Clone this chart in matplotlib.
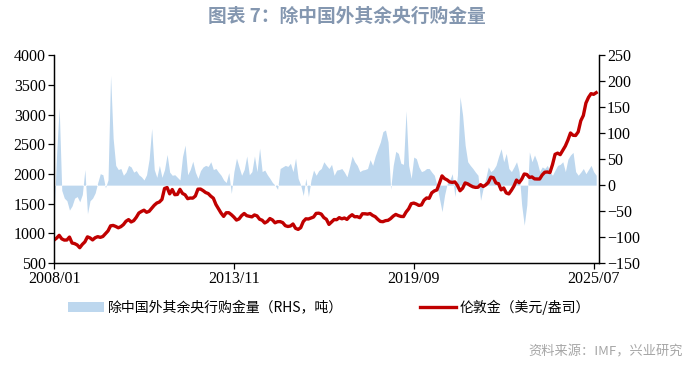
import numpy as np
import matplotlib.pyplot as plt
from matplotlib.patches import Patch
from matplotlib.lines import Line2D

# London gold, USD/oz, monthly 2008/01 - 2025/08
gold = [889, 922, 968, 909, 888, 890, 939, 839, 829, 807, 760, 816,
        858, 943, 925, 891, 928, 946, 934, 949, 996, 1043, 1128, 1135,
        1118, 1095, 1114, 1149, 1205, 1233, 1193, 1215, 1271, 1343, 1370, 1391,
        1356, 1372, 1424, 1474, 1512, 1529, 1573, 1756, 1772, 1666, 1739, 1652,
        1656, 1742, 1673, 1650, 1585, 1596, 1594, 1630, 1745, 1747, 1721, 1688,
        1671, 1627, 1593, 1487, 1414, 1343, 1287, 1348, 1349, 1316, 1275, 1225,
        1244, 1300, 1336, 1299, 1288, 1279, 1311, 1296, 1239, 1222, 1176, 1201,
        1251, 1227, 1179, 1198, 1199, 1182, 1131, 1117, 1125, 1159, 1086, 1068,
        1097, 1200, 1246, 1243, 1260, 1276, 1337, 1341, 1326, 1267, 1238, 1152,
        1192, 1234, 1231, 1266, 1246, 1260, 1236, 1283, 1315, 1280, 1283, 1265,
        1331, 1331, 1325, 1335, 1303, 1282, 1238, 1202, 1198, 1215, 1221, 1250,
        1291, 1320, 1300, 1286, 1284, 1359, 1413, 1500, 1511, 1495, 1471, 1480,
        1560, 1597, 1591, 1683, 1715, 1732, 1846, 1968, 1922, 1900, 1866, 1859,
        1867, 1808, 1718, 1760, 1850, 1834, 1807, 1785, 1775, 1777, 1821, 1790,
        1816, 1856, 1948, 1937, 1849, 1837, 1733, 1765, 1681, 1665, 1726, 1798,
        1898, 1854, 1912, 2000, 1992, 1943, 1951, 1918, 1916, 1916, 1985, 2030,
        2034, 2024, 2159, 2331, 2351, 2326, 2398, 2471, 2571, 2690, 2651, 2648,
        2709, 2895, 2984, 3193, 3288, 3352, 3340, 3368]

# central bank purchases ex-China, tonnes (RHS)
cb_buy = [-57, 60, 149, -10, -25, -30, -48, -40, -25, -22, -32, -18,
          30, -55, -30, -25, -15, 5, 22, 20, -5, 10, 211, 90,
          38, 30, 32, 19, 25, 38, 35, 25, 28, 20, 16, 10,
          20, 50, 109, 30, 15, 38, 15, 30, 59, 25, 19, 20,
          15, 10, 55, 77, 20, 30, 46, 25, 13, 28, 35, 38,
          36, 45, 30, 32, 25, 19, 10, 5, 24, -16, 26, 52,
          35, 19, 30, 56, 20, 26, 56, 26, 71, 26, 29, 20,
          13, 5, 0, -8, 32, 35, 38, 36, 42, 26, 52, 13,
          0, -20, 13, -22, 10, 29, 19, 28, 32, 45, 38, 32,
          40, 19, 29, 30, 32, 25, 16, 35, 56, 45, 38, 26,
          29, 30, 32, 49, 38, 56, 70, 83, 103, 106, 83, -8,
          38, 65, 61, 42, 40, 143, 38, 13, 54, 51, 35, 26,
          28, 32, 32, 25, 19, 0, -26, -51, -19, 3, 10, 22,
          -22, 19, 170, 135, 77, 45, 38, 32, 25, 19, -29, -6,
          13, 35, 26, 30, 38, 55, 70, 45, 61, 32, 26, 35,
          45, 26, -38, -77, -38, 64, 45, 58, 45, 26, 35, 32,
          38, 25, 19, 29, 38, 40, 45, 26, 50, 58, 63, 26,
          19, 25, 32, 22, 30, 38, 26, 19]

xtick_pos = [0, 70, 140, 210]
xtick_labels = ['2008/01', '2013/11', '2019/09', '2025/07']

cjk = ['Noto Sans CJK SC', 'DejaVu Sans']
serif = 'Liberation Serif'

months = np.arange(len(gold))

fig = plt.figure(figsize=(6.93, 3.65), dpi=100)
ax1 = fig.add_axes([0.078, 0.279, 0.786, 0.570])
ax2 = ax1.twinx()

ax2.fill_between(months, 0, cb_buy, color='#BDD7EE', linewidth=0)
ax1.plot(months, gold, color='#C00000', linewidth=2.4)

ax1.set_zorder(ax2.get_zorder() + 1)
ax1.patch.set_visible(False)

ax1.set_xlim(0, 212)
ax1.set_ylim(500, 4000)
ax1.set_yticks(range(500, 4001, 500))
ax2.set_ylim(-150, 250)
ax2.set_yticks(range(-150, 251, 50))
ax1.set_xticks(xtick_pos)
ax1.set_xticklabels(xtick_labels)

for ax in (ax1, ax2):
    ax.spines['top'].set_visible(False)
    for s in ax.spines.values():
        s.set_linewidth(0.9)
    ax.tick_params(length=4, width=0.9, labelsize=11.5, pad=2)
    for lab in ax.get_xticklabels() + ax.get_yticklabels():
        lab.set_family(serif)

fig.text(0.5, 0.955, '图表 7：除中国外其余央行购金量', ha='center', va='center',
         fontsize=13.5, fontweight='bold', color='#8497B0', family=cjk)

handles = [Patch(facecolor='#BDD7EE', edgecolor='none'),
           Line2D([], [], color='#C00000', linewidth=2.4)]
labels = ['除中国外其余央行购金量（RHS，吨）', '伦敦金（美元/盎司）']
fig.legend(handles, labels, loc='center', bbox_to_anchor=(0.475, 0.158), ncol=2,
           frameon=False, prop={'family': cjk, 'size': 10}, columnspacing=5.5,
           handlelength=2.6, handletextpad=0.3)

fig.text(0.986, 0.035, '资料来源：IMF，兴业研究', ha='right', va='center',
         fontsize=9.5, color='#A6A6A6', family=cjk)

fig.savefig('out.png', dpi=100)
